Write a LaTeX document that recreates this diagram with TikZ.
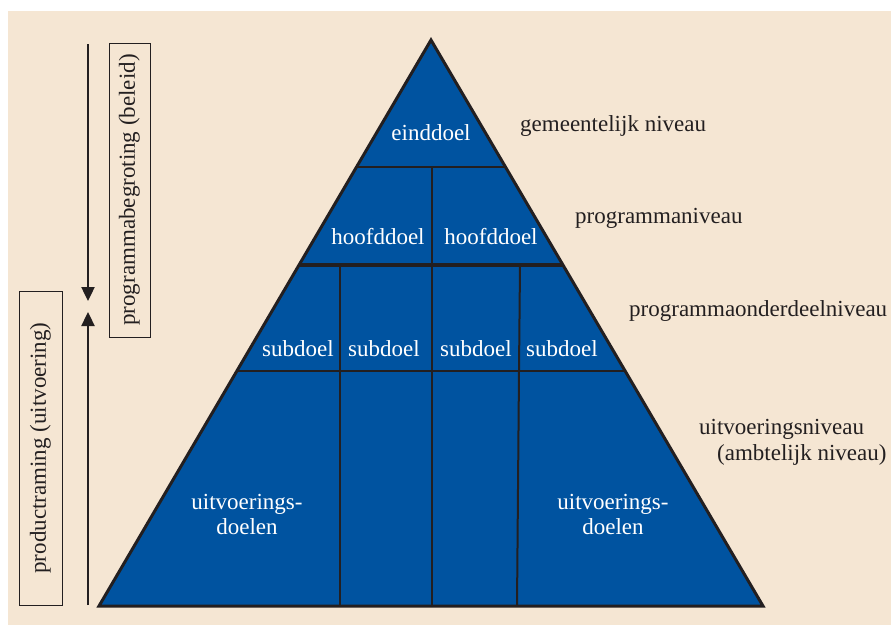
\documentclass[tikz,border=0pt]{standalone}
\usepackage{fontspec}
\setmainfont{Liberation Serif}
\usetikzlibrary{calc,arrows.meta}
\definecolor{paper}{RGB}{245,230,211}
\definecolor{goalblue}{RGB}{0,83,160}
\definecolor{ink}{RGB}{35,31,32}
\begin{document}
\begin{tikzpicture}[x=1pt,y=-1pt,
  txt/.style={font=\fontsize{23}{25}\selectfont, inner sep=0pt},
  goal/.style={txt, text=white, align=center},
  level/.style={txt, text=ink, anchor=west},
  sidebox/.style={txt, text=ink, draw=ink, line width=1pt, rotate=90},
  divider/.style={draw=ink, line width=2pt},
  flow/.style={draw=ink, line width=2.4pt, -{Triangle[width=13pt,length=14pt]}}]
  \useasboundingbox (0,0) rectangle (891,625);
  % paper background
  \fill[paper] (8,11) rectangle (891,625);

  % pyramid corners
  \coordinate (A) at (431,40);
  \coordinate (L) at (99,606);
  \coordinate (R) at (763,606);
  \fill[goalblue] (A) -- (L) -- (R) -- cycle;

  % horizontal level dividers
  \coordinate (h1l) at ($(A)!0.2244!(L)$); \coordinate (h1r) at ($(A)!0.2244!(R)$);
  \coordinate (h2l) at ($(A)!0.3975!(L)$); \coordinate (h2r) at ($(A)!0.3975!(R)$);
  \coordinate (h3l) at ($(A)!0.5848!(L)$); \coordinate (h3r) at ($(A)!0.5848!(R)$);
  \draw[divider] (h1l) -- (h1r);
  \draw[divider, line width=3.5pt] (h2l) -- (h2r);
  \draw[divider] (h3l) -- (h3r);

  % vertical dividers
  \coordinate (v0a) at (432,167); \coordinate (v0b) at (432,265);
  \coordinate (v1a) at (340,265); \coordinate (v1b) at (340,606);
  \coordinate (v2a) at (432,265); \coordinate (v2b) at (432,606);
  \coordinate (v3a) at (520,265); \coordinate (v3b) at (519,371);
  \coordinate (v4a) at (519,371); \coordinate (v4b) at (517,606);
  \draw[divider] (v0a) -- (v0b);
  \draw[divider] (v1a) -- (v1b);
  \draw[divider] (v2a) -- (v2b);
  \draw[divider] (v3a) -- (v3b);
  \draw[divider] (v4a) -- (v4b);

  % outline
  \draw[ink, line width=3pt, line join=miter] (A) -- (L) -- (R) -- cycle;

  % goals
  \node[goal] (eind) at (431,133) {einddoel};
  \node[goal] (hoofd1) at (378,237) {hoofddoel};
  \node[goal] (hoofd2) at (491,237) {hoofddoel};
  \node[goal] (sub1) at (298,349) {subdoel};
  \node[goal] (sub2) at (384,349) {subdoel};
  \node[goal] (sub3) at (476,349) {subdoel};
  \node[goal] (sub4) at (562,349) {subdoel};
  \node[goal] (uit1) at (247,514) {uitvoerings-\\doelen};
  \node[goal] (uit2) at (613,514) {uitvoerings-\\doelen};

  % level names
  \node[level] (lv1) at (520,126) {gemeentelijk niveau};
  \node[level] (lv2) at (575,218) {programmaniveau};
  \node[level] (lv3) at (629,311) {programmaonderdeelniveau};
  \node[level] (lv4) at (699,429) {uitvoeringsniveau};
  \node[level] (lv5) at (717,455) {(ambtelijk niveau)};

  % side boxes
  \node[sidebox, minimum width=294pt, minimum height=41pt] (beleid) at (129.5,190) {programmabegroting (beleid)};
  \node[sidebox, minimum width=314pt, minimum height=43pt] (uitv) at (40.5,448) {productraming (uitvoering)};

  % direction arrows
  \coordinate (dtop) at (88,44);
  \coordinate (dtip) at (88,301);
  \coordinate (ubot) at (88,605);
  \coordinate (utip) at (88,312);
  \draw[flow] (dtop) -- (dtip);
  \draw[flow] (ubot) -- (utip);
\end{tikzpicture}
\end{document}
